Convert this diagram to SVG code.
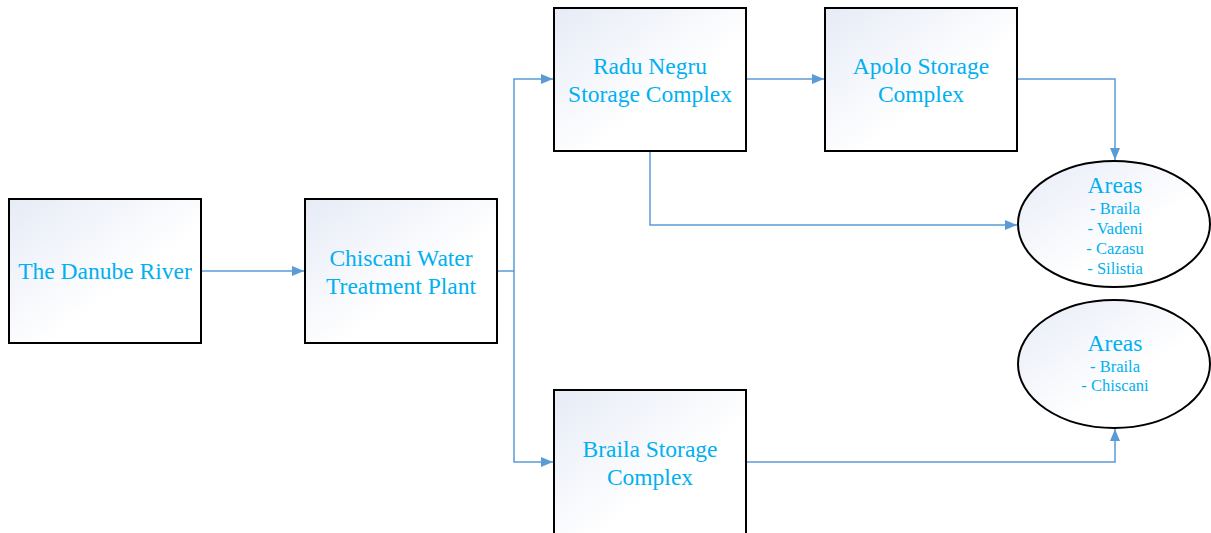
<svg xmlns="http://www.w3.org/2000/svg" width="1211" height="533" viewBox="0 0 1211 533">
<defs>
<linearGradient id="g" x1="0" y1="0" x2="1" y2="1">
<stop offset="0" stop-color="#e6ebf6"/>
<stop offset="0.6" stop-color="#ffffff"/>
</linearGradient>
<marker id="arr" markerWidth="12" markerHeight="10" refX="12" refY="5" orient="auto" markerUnits="userSpaceOnUse">
<path d="M0,0 L12,5 L0,10 Z" fill="#5b9bd5"/>
</marker>
</defs>
<style>
.box{fill:url(#g);stroke:#000;stroke-width:2}
.t{font-family:"Liberation Serif",serif;font-size:23.5px;fill:#00b0f0;text-anchor:middle}
.s{font-family:"Liberation Serif",serif;font-size:16.5px;fill:#00b0f0;text-anchor:middle}
.c{fill:none;stroke:#5b9bd5;stroke-width:1.5;marker-end:url(#arr)}
</style>
<g id="connectors">
<path class="c" d="M201,271 H304"/>
<path class="c" d="M497,271 H514 V79 H553"/>
<path class="c" d="M514,271 V462 H553"/>
<path class="c" d="M746,79 H824"/>
<path class="c" d="M1017,79 H1115 V160"/>
<path class="c" d="M650,151 V225 H1017"/>
<path class="c" d="M746,462 H1115 V429"/>
</g>
<g id="danube">
<rect class="box" x="9" y="199" width="192" height="144"/>
<text class="t" x="105" y="279">The Danube River</text>
</g>
<g id="chiscani">
<rect class="box" x="305" y="199" width="192" height="144"/>
<text class="t" x="401" y="266">Chiscani Water</text>
<text class="t" x="401" y="294">Treatment Plant</text>
</g>
<g id="radu">
<rect class="box" x="554" y="8" width="192" height="143"/>
<text class="t" x="650" y="74">Radu Negru</text>
<text class="t" x="650" y="102">Storage Complex</text>
</g>
<g id="apolo">
<rect class="box" x="825" y="8" width="192" height="143"/>
<text class="t" x="921" y="74">Apolo Storage</text>
<text class="t" x="921" y="102">Complex</text>
</g>
<g id="braila">
<rect class="box" x="554" y="390" width="192" height="150"/>
<text class="t" x="650" y="457">Braila Storage</text>
<text class="t" x="650" y="485">Complex</text>
</g>
<g id="areas1">
<ellipse class="box" cx="1114" cy="224" rx="96" ry="63"/>
<text class="t" x="1115" y="193">Areas</text>
<text class="s" x="1115" y="214">- Braila</text>
<text class="s" x="1115" y="234">- Vadeni</text>
<text class="s" x="1115" y="254">- Cazasu</text>
<text class="s" x="1115" y="274">- Silistia</text>
</g>
<g id="areas2">
<ellipse class="box" cx="1114" cy="364" rx="96" ry="64"/>
<text class="t" x="1115" y="351">Areas</text>
<text class="s" x="1115" y="372">- Braila</text>
<text class="s" x="1115" y="391">- Chiscani</text>
</g>
</svg>
